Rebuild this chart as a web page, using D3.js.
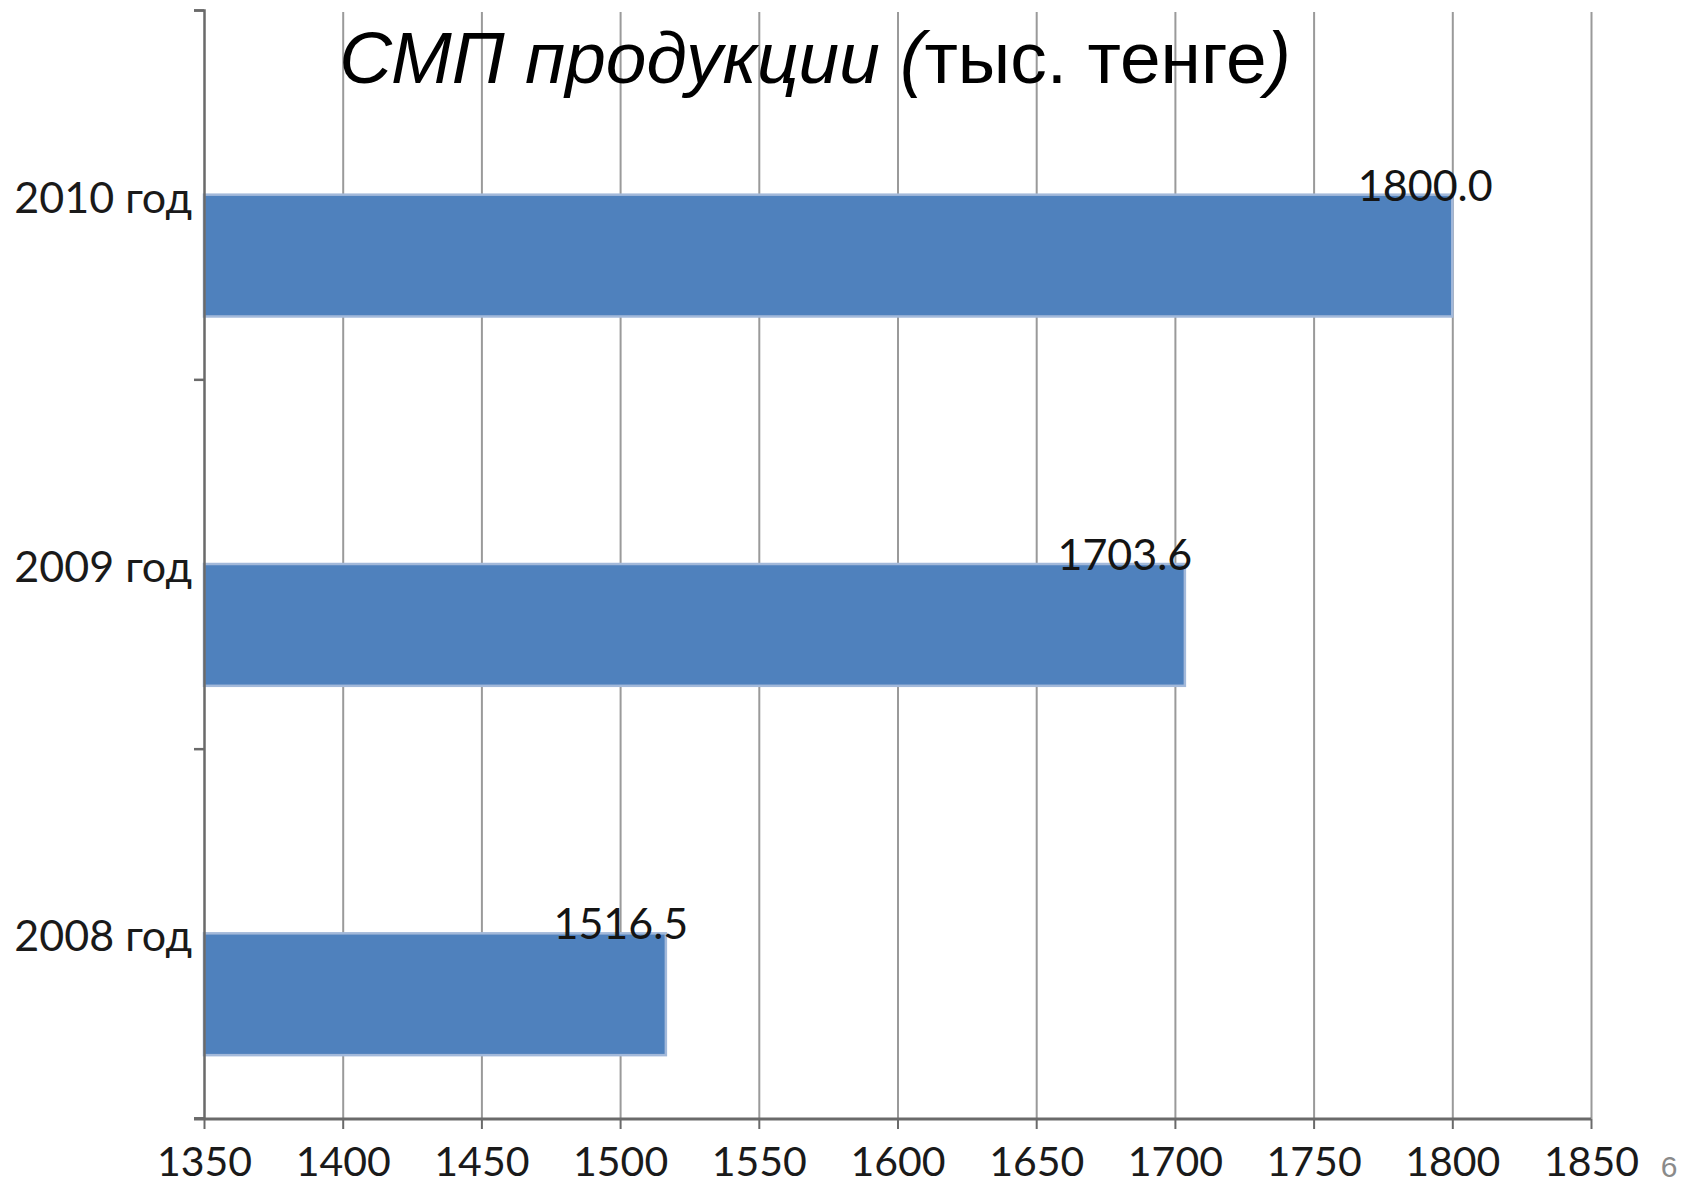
<!DOCTYPE html>
<html>
<head>
<meta charset="utf-8">
<script src="https://cdn.jsdelivr.net/npm/d3@7"></script>
<style>
  html, body { margin: 0; padding: 0; background: #fff; }
  svg { display: block; }
</style>
</head>
<body>
<div id="chart"></div>
<script>
// data
const categories = ['2010 год', '2009 год', '2008 год'];
const values = [1800.0, 1703.6, 1516.5];
const valueLabels = ['1800.0', '1703.6', '1516.5'];
const xTicks = [1350, 1400, 1450, 1500, 1550, 1600, 1650, 1700, 1750, 1800, 1850];
const titleItalic = 'СМП продукции (';
const titleUnit = 'тыс. тенге';
const titleClose = ')';
const slideNumber = '6';

const width = 1682, height = 1185;
const plot = { left: 204, right: 1591, top: 10, bottom: 1118 };
const chartFont = 'Lato, "Liberation Sans", sans-serif';

const svg = d3.select('#chart').append('svg')
  .attr('width', width)
  .attr('height', height);

svg.append('rect').attr('width', width).attr('height', height).attr('fill', '#fff');

const x = d3.scaleLinear()
  .domain([xTicks[0], xTicks[xTicks.length - 1]])
  .range([plot.left, plot.right]);

const y = d3.scaleBand()
  .domain(categories)
  .range([plot.top, plot.bottom]);

// two slots per category, the visible series sits in the lower one
const slot = d3.scaleBand()
  .domain(['empty', 'main'])
  .range([0, y.bandwidth()])
  .paddingOuter(0.516);

// category boundary ticks on the left axis
const yEdges = d3.scaleLinear().domain([0, categories.length]).range([plot.top, plot.bottom]);

// gridlines
svg.append('g')
  .attr('transform', `translate(0,${plot.bottom + 1})`)
  .call(d3.axisBottom(x).tickValues(xTicks.slice(1)).tickSize(-(plot.bottom - plot.top - 1)).tickFormat(''))
  .call(g => g.select('.domain').remove())
  .call(g => g.selectAll('line').attr('stroke', '#9a9a9a').attr('stroke-width', 2));

// bars
svg.append('g').selectAll('rect')
  .data(values)
  .join('rect')
  .attr('x', x(xTicks[0]))
  .attr('y', (d, i) => y(categories[i]) + slot('main'))
  .attr('width', d => x(d) - x(xTicks[0]))
  .attr('height', slot.bandwidth())
  .attr('fill', '#4f81bd')
  .attr('stroke', '#a3b9da')
  .attr('stroke-width', 2.5);

// left axis
svg.append('g')
  .attr('transform', `translate(${plot.left},0)`)
  .call(d3.axisLeft(yEdges).tickValues(d3.range(categories.length + 1)).tickSize(10).tickFormat(''))
  .call(g => g.select('.domain').attr('stroke', '#6a6a6a').attr('stroke-width', 2.5))
  .call(g => g.selectAll('line').attr('stroke', '#6a6a6a').attr('stroke-width', 2.5));

svg.append('g')
  .attr('transform', `translate(${plot.left},0)`)
  .call(d3.axisLeft(y).tickSize(0).tickPadding(12))
  .call(g => g.select('.domain').remove())
  .call(g => g.selectAll('text')
    .attr('dy', 18)
    .attr('fill', '#1a1a1a')
    .style('font-family', chartFont)
    .style('font-size', '43px'));

// bottom axis
const xAxis = svg.append('g')
  .attr('transform', `translate(0,${plot.bottom + 1})`)
  .call(d3.axisBottom(x).tickValues(xTicks).tickSize(10).tickFormat(d3.format('d')));

xAxis.select('.domain').remove();
xAxis.selectAll('line').attr('stroke', '#6a6a6a').attr('stroke-width', 2);
xAxis.append('line')
  .attr('x1', plot.left - 10).attr('x2', plot.right)
  .attr('stroke', '#6a6a6a').attr('stroke-width', 3);
xAxis.selectAll('text')
  .attr('y', 57).attr('dy', 0)
  .attr('fill', '#1a1a1a')
  .style('font-family', chartFont)
  .style('font-size', '41px');

// data labels, hand placed in the original
const labelNudge = [-27, -60, -45];
svg.append('g').selectAll('text')
  .data(values)
  .join('text')
  .attr('x', (d, i) => x(d) + labelNudge[i])
  .attr('y', (d, i) => y(categories[i]) + slot('main') + 6)
  .attr('text-anchor', 'middle')
  .attr('fill', '#141414')
  .style('font-family', chartFont)
  .style('font-size', '43px')
  .text((d, i) => valueLabels[i]);

// title
const title = svg.append('text')
  .attr('x', 815)
  .attr('y', 83)
  .attr('text-anchor', 'middle')
  .attr('fill', '#000')
  .style('font-family', '"Liberation Sans", Arial, sans-serif')
  .style('font-size', '73px');
title.append('tspan').style('font-style', 'italic').text(titleItalic);
title.append('tspan').text(titleUnit);
title.append('tspan').style('font-style', 'italic').text(titleClose);

// slide number
svg.append('text')
  .attr('x', 1669)
  .attr('y', 1177)
  .attr('text-anchor', 'middle')
  .attr('fill', '#8a8a8a')
  .style('font-family', '"Liberation Sans", Arial, sans-serif')
  .style('font-size', '30px')
  .text(slideNumber);
</script>
</body>
</html>
